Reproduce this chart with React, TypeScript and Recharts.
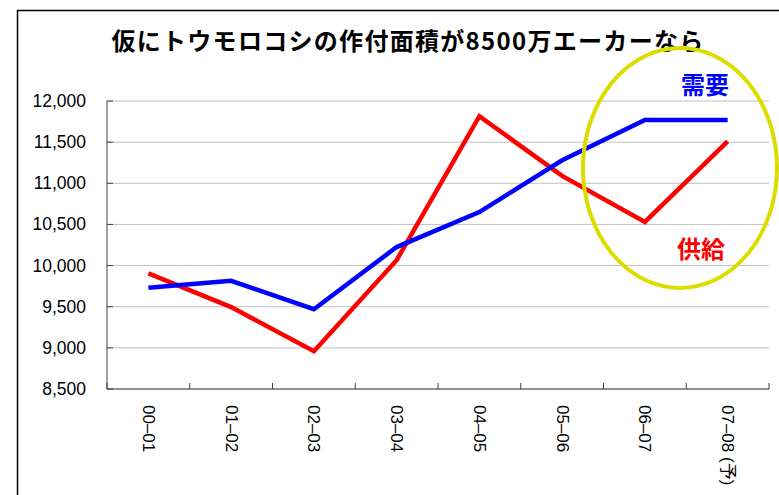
import React from "react";
import { LineChart, Line, XAxis, YAxis, CartesianGrid } from "recharts";

const categories = ["00–01", "01–02", "02–03", "03–04", "04–05", "05–06", "06–07", "07–08 (予)"];
const demand = [9730, 9815, 9470, 10225, 10650, 11280, 11770, 11770];
const supply = [9905, 9495, 8960, 10065, 11815, 11090, 10530, 11510];
const yTicks = [8500, 9000, 9500, 10000, 10500, 11000, 11500, 12000];
const title = "仮にトウモロコシの作付面積が8500万エーカーなら";
const demandLabel = "需要";
const supplyLabel = "供給";

const data = categories.map((c, i) => ({ name: c, demand: demand[i], supply: supply[i] }));

const W = 779;
const H = 495;
const MARGIN = { top: 101, right: 10, bottom: 6, left: 0 };
const Y_AXIS_W = 107;
const X_AXIS_H = 100;
const PLOT_W = W - MARGIN.left - MARGIN.right - Y_AXIS_W;
const HALF_BAND = PLOT_W / categories.length / 2;
const FONT = "'Liberation Sans', Arial, 'Noto Sans CJK JP', sans-serif";
const JP_FONT = "'Noto Sans CJK JP', 'Liberation Sans', sans-serif";

const XTick = (props: any) => {
  const { x, y, payload, index } = props;
  const isLast = index === categories.length - 1;
  return (
    <g>
      <line x1={x - HALF_BAND} x2={x - HALF_BAND} y1={y} y2={y - 6} stroke="#404040" strokeWidth={1} />
      {isLast && (
        <line x1={x + HALF_BAND} x2={x + HALF_BAND} y1={y} y2={y - 6} stroke="#404040" strokeWidth={1} />
      )}
      <text
        transform={`translate(${x},${y + 16}) rotate(90)`}
        textAnchor="start"
        dominantBaseline="central"
        fontSize={17}
        fontFamily={FONT}
        fill="#000"
      >
        {payload.value}
      </text>
    </g>
  );
};

const YTick = (props: any) => {
  const { x, y, payload } = props;
  return (
    <g>
      <line x1={x} x2={x + 6} y1={y} y2={y} stroke="#404040" strokeWidth={1} />
      <text
        x={x - 21}
        y={y}
        textAnchor="end"
        dominantBaseline="central"
        fontSize={17.5}
        fontFamily={FONT}
        fill="#000"
      >
        {Number(payload.value).toLocaleString("en-US")}
      </text>
    </g>
  );
};

export default function App() {
  return (
    <div style={{ position: "absolute", left: 0, top: 0, width: W, height: H, background: "#fff" }}>
      <LineChart width={W} height={H} data={data} margin={MARGIN}>
        <CartesianGrid horizontal vertical={false} stroke="#c0c0c0" strokeWidth={1} />
        <XAxis
          dataKey="name"
          scale="band"
          height={X_AXIS_H}
          interval={0}
          tickLine={false}
          tickSize={0}
          tickMargin={0}
          axisLine={{ stroke: "#404040", strokeWidth: 1 }}
          tick={<XTick />}
        />
        <YAxis
          width={Y_AXIS_W}
          domain={[8500, 12000]}
          ticks={yTicks}
          interval={0}
          tickLine={false}
          tickSize={0}
          tickMargin={0}
          axisLine={{ stroke: "#404040", strokeWidth: 1 }}
          tick={<YTick />}
        />
        <Line
          type="linear"
          dataKey="supply"
          stroke="#ff0000"
          strokeWidth={4.5}
          dot={false}
          activeDot={false}
          isAnimationActive={false}
        />
        <Line
          type="linear"
          dataKey="demand"
          stroke="#0000ff"
          strokeWidth={4.5}
          dot={false}
          activeDot={false}
          isAnimationActive={false}
        />
      </LineChart>
      <svg
        width={W}
        height={H}
        style={{ position: "absolute", left: 0, top: 0, pointerEvents: "none" }}
      >
        <rect x={17.5} y={10.5} width={800} height={600} fill="none" stroke="#000" strokeWidth={1.5} />
        <text
          x={408}
          y={39}
          textAnchor="middle"
          dominantBaseline="central"
          fontSize={24}
          fontWeight="bold"
          letterSpacing={1.3}
          fontFamily={JP_FONT}
          fill="#000"
        >
          {title}
        </text>
        <ellipse cx={680} cy={168} rx={97} ry={120} fill="none" stroke="#dcdc00" strokeWidth={4} />
        <text
          x={705}
          y={83}
          textAnchor="middle"
          dominantBaseline="central"
          fontSize={24}
          fontWeight="bold"
          fontFamily={JP_FONT}
          fill="#0000ff"
        >
          {demandLabel}
        </text>
        <text
          x={701}
          y={247}
          textAnchor="middle"
          dominantBaseline="central"
          fontSize={24}
          fontWeight="bold"
          fontFamily={JP_FONT}
          fill="#ff0000"
        >
          {supplyLabel}
        </text>
      </svg>
    </div>
  );
}
